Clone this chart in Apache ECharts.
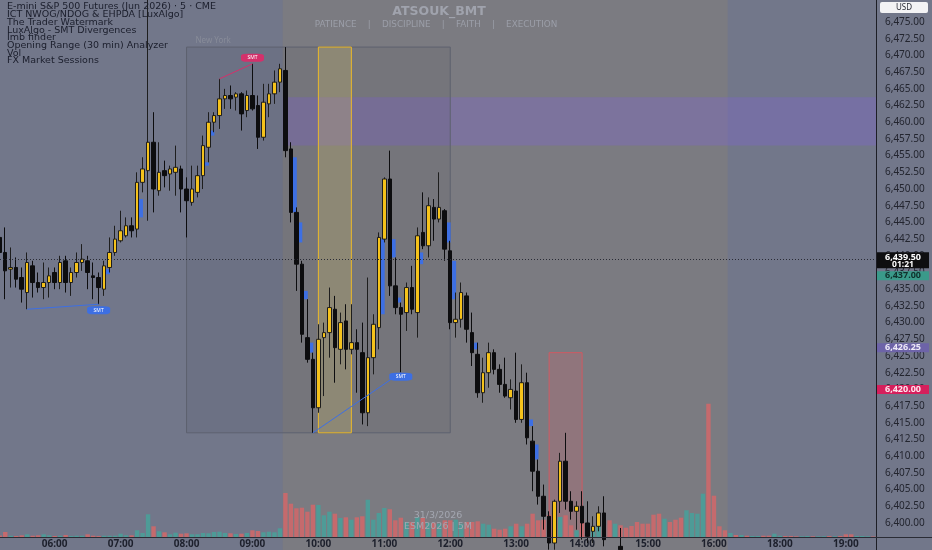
<!DOCTYPE html>
<html><head><meta charset="utf-8">
<script src="https://cdn.jsdelivr.net/npm/echarts@6/dist/echarts.min.js"></script>
<style>html,body{margin:0;padding:0;background:#72778a;overflow:hidden;}#c{width:935px;height:550px;margin-left:-3px;}</style>
</head><body><div id="c"></div>
<script>
// ---------- DATA ----------
// 5-minute slots from 05:10 (CME break 17:00-17:55 skipped)
const categories = [];
(function () {
  const pad = n => (n < 10 ? '0' : '') + n;
  let m = 5 * 60 + 10;
  while (categories.length < 160) {
    if (!(m >= 17 * 60 && m < 18 * 60)) categories.push(pad(Math.floor(m / 60)) + ':' + pad(m % 60));
    m += 5;
  }
})();

// [open, high, low, close]
const candles = [
[6442.75,6444.5,6440.25,6440.5],[6440.5,6444.25,6433.5,6437.75],[6438.0,6441.25,6435.25,6438.25],[6438.25,6439.75,6435.25,6436.5],[6436.75,6438.25,6433.0,6435.0],
[6434.5,6440.5,6432.0,6439.0],[6438.5,6439.25,6433.75,6436.0],[6436.0,6437.5,6434.5,6435.25],[6435.25,6439.0,6433.5,6436.0],[6436.0,6438.25,6433.75,6437.0],
[6437.5,6438.25,6435.0,6436.0],[6436.0,6440.0,6435.0,6439.0],[6439.25,6440.0,6434.5,6436.0],[6436.0,6438.25,6434.0,6437.5],[6437.5,6440.5,6436.75,6439.0],
[6439.0,6441.75,6437.75,6439.5],[6439.25,6440.0,6435.0,6437.5],[6437.0,6439.0,6433.5,6436.75],[6436.75,6437.5,6432.75,6435.25],[6435.0,6439.25,6434.0,6438.5],
[6438.25,6442.75,6437.5,6440.5],[6440.5,6444.5,6440.0,6442.5],[6442.25,6446.75,6442.0,6443.75],[6443.0,6445.75,6442.75,6444.5],[6444.5,6445.75,6442.75,6443.75],
[6444.0,6452.5,6442.75,6451.0],[6451.0,6454.75,6449.5,6453.0],[6452.75,6480.0,6445.25,6457.0],[6457.0,6461.5,6446.5,6450.0],[6449.75,6457.0,6449.0,6452.5],
[6452.75,6454.25,6450.25,6452.0],[6452.25,6453.5,6449.75,6453.0],[6452.5,6456.5,6449.0,6453.25],[6453.0,6453.5,6446.5,6450.0],[6450.0,6451.75,6442.75,6448.25],
[6448.0,6453.5,6447.5,6450.0],[6449.5,6453.5,6448.75,6452.0],[6452.0,6458.0,6450.0,6456.5],[6456.25,6461.5,6454.0,6460.0],[6460.0,6461.5,6458.5,6461.0],
[6461.0,6466.5,6459.0,6463.5],[6463.5,6465.0,6462.0,6464.0],[6464.0,6465.5,6462.0,6463.5],[6463.75,6464.5,6461.75,6464.25],[6464.25,6464.5,6458.75,6461.25],
[6461.75,6464.75,6460.75,6464.0],[6464.0,6468.75,6461.75,6462.0],[6462.5,6464.0,6456.0,6457.75],[6457.75,6465.75,6457.25,6463.0],[6462.75,6465.75,6460.75,6464.25],
[6464.25,6467.75,6462.75,6466.0],[6466.0,6468.75,6464.5,6468.0],[6467.75,6471.25,6454.75,6455.75],[6456.0,6457.0,6445.0,6446.5],[6446.5,6447.25,6434.75,6438.75],
[6438.75,6439.25,6427.0,6428.25],[6427.75,6433.5,6424.0,6424.5],[6424.5,6425.5,6413.5,6417.25],[6417.25,6429.75,6416.5,6427.5],[6427.75,6430.0,6419.0,6428.5],
[6428.5,6435.25,6424.75,6432.25],[6432.0,6434.0,6421.0,6426.25],[6426.0,6431.5,6423.75,6430.0],[6430.25,6432.75,6423.0,6426.0],[6426.0,6432.75,6425.25,6427.0],
[6427.0,6429.0,6419.5,6426.0],[6425.5,6430.0,6414.75,6416.5],[6416.5,6436.75,6414.5,6424.75],[6424.75,6431.25,6422.25,6429.75],[6429.25,6443.5,6426.0,6442.75],
[6442.5,6451.75,6442.0,6451.5],[6451.5,6455.75,6434.0,6435.5],[6435.5,6439.75,6431.25,6432.25],[6432.25,6433.0,6422.5,6431.25],[6431.5,6436.0,6428.75,6435.25],
[6435.25,6438.5,6431.25,6432.0],[6431.5,6444.25,6427.75,6443.0],[6443.5,6449.5,6441.0,6441.5],[6441.5,6448.75,6439.75,6447.5],[6447.25,6448.5,6442.25,6445.5],
[6445.5,6452.5,6445.0,6447.25],[6446.75,6447.0,6439.25,6441.0],[6440.75,6442.25,6429.0,6430.0],[6430.0,6434.5,6427.75,6430.5],[6430.5,6436.0,6429.25,6434.5],
[6434.0,6434.5,6427.0,6429.0],[6428.5,6431.5,6423.5,6425.5],[6425.25,6427.0,6418.75,6419.5],[6419.5,6424.75,6418.0,6422.5],[6422.5,6427.0,6420.25,6425.5],
[6425.5,6426.0,6422.25,6423.0],[6423.0,6423.75,6419.5,6420.75],[6420.75,6424.75,6418.75,6419.0],[6418.75,6421.5,6417.0,6420.0],[6419.75,6425.5,6415.0,6415.5],
[6415.5,6423.75,6415.0,6421.0],[6421.0,6422.5,6411.75,6412.75],[6412.25,6414.5,6404.75,6407.75],[6407.75,6409.5,6402.75,6404.0],[6404.0,6405.75,6399.0,6401.0],
[6401.0,6401.75,6396.0,6397.0],[6397.0,6403.5,6396.0,6403.25],[6403.25,6410.5,6401.5,6409.25],[6409.25,6413.5,6402.0,6403.25],[6403.25,6404.75,6400.5,6401.75],
[6401.75,6403.25,6399.0,6402.5],[6402.5,6404.75,6397.5,6400.0],[6400.0,6403.25,6397.0,6398.0],[6398.75,6401.0,6397.0,6399.5],[6399.5,6402.5,6398.75,6401.5],
[6401.5,6404.0,6396.5,6397.5],null,null,[6396.5,6399.25,6395.0,6396.0]
];

// volume per slot (contracts)
const volumes = [
150,500,130,100,170,270,130,170,270,170,
100,130,200,100,130,130,270,130,100,130,
130,130,330,170,170,670,400,2270,1070,570,
470,270,430,330,370,270,270,400,370,500,
530,400,370,300,330,400,670,600,470,530,
470,870,4400,3330,2870,2930,2530,3230,3200,2170,
2530,2330,1900,1970,1730,1970,2070,3730,1730,2400,
2900,2770,1670,1930,1500,1500,2000,1900,1430,1430,
1330,1670,1670,1730,1330,1500,1500,1570,1330,1230,
830,730,830,1070,1330,1070,1330,2330,1670,1730,
2200,1430,2000,2170,1170,670,1800,1400,900,1400,
1200,1670,1330,1170,930,1100,1500,1330,1330,2230,
2330,1830,1500,1730,1930,2670,2400,2330,4330,13330,
4130,1070,670,400,200,200,130,100,100,130,
130,330,130,100,100,70,70,100,70,70,
70,100,70,100,270,270,100,100,70,50
];
// bar direction for slots whose candle is below the visible range (from slot 111)
const lateVolSide = ['d','u','d','d','d','d','d','d','d','d','u','d','d','d','u','u','u','u','d','d',
'd','d','u','d','u','d','u','u','d','d','u','u','d','d','d','u','u','d','u','u','d','u','d','d','d','u','u','u','d'];

const priceTicks = [6400,6402.5,6405,6407.5,6410,6412.5,6415,6417.5,6420,6422.5,6425,6427.5,6430,6432.5,6435,
6437.5,6440,6442.5,6445,6447.5,6450,6452.5,6455,6457.5,6460,6462.5,6465,6467.5,6470,6472.5,6475];

// imbalance blocks [slot, low, high]
const imbalances = [[19,6437.25,6438.0],[25,6445.75,6448.5],[37,6453.5,6454.0],[38,6458.0,6458.75],[53,6446.5,6454.75],
[54,6442.0,6445.0],[55,6433.5,6434.75],[56,6425.5,6427.0],[69,6431.25,6442.5],[71,6439.75,6442.5],[72,6433.0,6433.75],
[76,6438.75,6440.5],[81,6442.0,6445.0],[82,6433.5,6439.25],[86,6426.0,6427.0],[96,6414.5,6415.5],[97,6409.5,6411.75]];

// SMT swing links [fromSlot, fromPrice, toSlot, toPrice, kind]
const swings = [[5,6432.0,18,6432.75,'low'],[40,6466.5,46,6468.75,'high'],[57,6413.5,73,6422.5,'low']];

// boxes [fromSlot, toSlot, low, high, kind]
const Y_MIN = 6397.9, Y_MAX = 6478.3;
const boxes = [[34,82,6413.5,6471.25,'ny'],[58,64,6413.5,6471.25,'or'],[100,106,Y_MIN,6425.5,'red']];
const sessionSlots = [52,132];
const zone = [52, 6456.5, 6463.75];
const lastPrice = 6439.5, lastTimer = '01:21';
const tagPrices = [[6437.0,'teal'],[6426.25,'purple'],[6420.0,'red']];

const legendLines = ['E-mini S&P 500 Futures (Jun 2026) · 5 · CME','ICT NWOG/NDOG & EHPDA [LuxAlgo]','The Trader Watermark',
'LuxAlgo - SMT Divergences','Imb finder','Opening Range (30 min) Analyzer','Vol','FX Market Sessions'];

// ---------- CHART ----------
const UP = '#f5c21b', DOWN = '#0d0d0f', VUP = '#4e9b97', VDN = '#c56a6d', BLUE = '#3d6fe3', RED = '#d4306b';
const fmt = v => v.toFixed(2).replace(/\B(?=(\d{3})+(?!\d))/, ',');
const FONT = '"Noto Sans", "DejaVu Sans", sans-serif';
const DV = '"DejaVu Sans", sans-serif';
const OX = 3;           // the chart canvas starts 3px left of the page
const W = 935;

const candleData = candles.map(c => c ? [c[0], c[3], c[2], c[1]] : '-');
const volData = volumes.map((v, i) => {
  const c = candles[i];
  let up = c ? c[3] >= c[0] : lateVolSide[i - 111] === 'u';
  return { value: v, itemStyle: { color: up ? VUP : VDN } };
});

const boxStyles = {
  ny: { color: 'rgba(40,42,60,0.07)', borderColor: '#5d616f', borderWidth: 1 },
  or: { color: 'rgba(228,205,95,0.22)', borderColor: '#ebb92a', borderWidth: 1 },
  red: { color: 'rgba(228,95,105,0.20)', borderColor: '#d05a62', borderWidth: 1 }
};

const chart = echarts.init(document.getElementById('c'));
chart.setOption({
  backgroundColor: '#72778a',
  animation: false,
  grid: [
    { left: 0, right: 56, top: 0, bottom: 13 },
    { left: 0, right: 56, bottom: 13, height: 150 }
  ],
  xAxis: [
    { type: 'category', data: categories, gridIndex: 0, boundaryGap: true,
      axisLine: { show: false }, axisTick: { show: false }, splitLine: { show: false },
      axisLabel: { interval: (i, v) => v.slice(3) === '00', color: '#1d202c', fontSize: 10, fontWeight: 'bold', fontFamily: FONT, margin: 2 } },
    { type: 'category', data: categories, gridIndex: 1, show: false, boundaryGap: true }
  ],
  yAxis: [
    { type: 'value', gridIndex: 0, position: 'right', min: Y_MIN, max: Y_MAX,
      axisLine: { show: false }, axisTick: { show: false }, splitLine: { show: false },
      axisLabel: { customValues: priceTicks, formatter: fmt, color: '#23252f', fontSize: 10, fontFamily: FONT, margin: 9 } },
    { type: 'value', gridIndex: 1, min: 0, max: 15000, show: false, splitLine: { show: false } }
  ],
  series: [
    { type: 'bar', xAxisIndex: 1, yAxisIndex: 1, data: volData, barWidth: '80%', silent: true },
    { type: 'candlestick', xAxisIndex: 0, yAxisIndex: 0, data: candleData, barWidth: 4, clip: true, silent: true,
      itemStyle: { color: UP, color0: DOWN, borderColor: '#1e1e1e', borderColor0: DOWN, borderWidth: 1 },
      markArea: { silent: true, label: { show: false },
        data: boxes.map(b => [{ xAxis: categories[b[0]], yAxis: b[2], itemStyle: boxStyles[b[4]] }, { xAxis: categories[b[1]], yAxis: b[3] }]) },
      markLine: { silent: true, symbol: 'none', label: { show: false }, animation: false,
        data: [{ yAxis: lastPrice, lineStyle: { color: '#2a2c36', type: [1, 2], width: 1 } }].concat(
          swings.map(s => [{ coord: [categories[s[0]], s[1]], lineStyle: { color: s[4] === 'high' ? RED : BLUE, type: 'solid', width: 1 } },
                           { coord: [categories[s[2]], s[3]] }])) },
      markPoint: { silent: true, symbol: 'roundRect', symbolSize: [23, 8],
        data: swings.map(s => ({ coord: [categories[s[2]], s[3]], symbolOffset: [0, s[4] === 'high' ? -6 : (s[2] === 73 ? 4 : 6)],
          itemStyle: { color: s[4] === 'high' ? RED : BLUE },
          label: { show: true, position: 'inside', formatter: 'SMT', fontSize: 5, color: '#ffffff', fontFamily: FONT } })) }
    },
    { type: 'custom', xAxisIndex: 0, yAxisIndex: 0, data: imbalances, clip: true, silent: true,
      encode: { x: 0, y: [1, 2] },
      renderItem: (params, api) => {
        const i = api.value(0);
        const lo = api.coord([i, api.value(1)]);
        const hi = api.coord([i, api.value(2)]);
        const bw = api.size([1, 0])[0];
        return { type: 'rect', shape: { x: lo[0] + 0.35 * bw, y: hi[1], width: 0.72 * bw, height: Math.max(1.5, lo[1] - hi[1]) }, style: { fill: BLUE } };
      } }
  ]
});

// ---------- OVERLAYS (positions from the chart's own scales) ----------
const cx = i => chart.convertToPixel({ xAxisIndex: 0 }, categories[i]);
const cy = v => chart.convertToPixel({ yAxisIndex: 0 }, v);
const bw = cx(1) - cx(0);
const plotRight = W - 56;
const g = [];
const sx0 = cx(sessionSlots[0]) - bw / 2, sx1 = cx(sessionSlots[1]) + bw / 2;
g.push({ type: 'rect', z: -5, silent: true, shape: { x: sx0, y: 0, width: sx1 - sx0, height: 550 }, style: { fill: '#7b7b81' } });
const zx0 = cx(zone[0]) - bw / 2;
g.push({ type: 'rect', z: -4, silent: true, shape: { x: zx0, y: cy(zone[2]), width: plotRight - zx0, height: cy(zone[1]) - cy(zone[2]) }, style: { fill: 'rgba(128,100,215,0.33)' } });
g.push({ type: 'line', z: 50, silent: true, shape: { x1: plotRight + 0.5, y1: 0, x2: plotRight + 0.5, y2: 550 }, style: { stroke: '#1d1e25', lineWidth: 1 } });
g.push({ type: 'line', z: 50, silent: true, shape: { x1: 0, y1: 537.5, x2: W, y2: 537.5 }, style: { stroke: '#2a2c35', lineWidth: 1 } });

// legend
legendLines.forEach((t, k) => g.push({ type: 'text', z: 60, silent: true, x: OX + 7, y: 7 + 7.7 * k,
  style: { text: t, fill: '#1b1e2c', font: '9.5px ' + DV, verticalAlign: 'middle' } }));
// watermarks
g.push({ type: 'text', z: 60, silent: true, x: OX + 439, y: 12, style: { text: 'ATSOUK_BMT', fill: '#a0a3ad', font: 'bold 12.5px ' + DV, align: 'center', verticalAlign: 'middle' } });
g.push({ type: 'text', z: 60, silent: true, x: OX + 436, y: 24.5, style: { text: 'PATIENCE    |    DISCIPLINE    |    FAITH    |    EXECUTION', fill: '#9b9ea8', font: '8.8px ' + DV, align: 'center', verticalAlign: 'middle' } });
g.push({ type: 'text', z: 60, silent: true, x: OX + 438, y: 516, style: { text: '31/3/2026', fill: '#a3a6b0', font: '9.5px ' + DV, align: 'center', verticalAlign: 'middle' } });
g.push({ type: 'text', z: 60, silent: true, x: OX + 438, y: 527, style: { text: 'ESM2026 | 5M', fill: '#a3a6b0', font: '9.5px ' + DV, align: 'center', verticalAlign: 'middle' } });
g.push({ type: 'text', z: 60, silent: true, x: cx(boxes[0][0]) + 9, y: cy(boxes[0][3]) - 6, style: { text: 'New York', fill: '#888c99', font: '8px ' + FONT, verticalAlign: 'middle' } });
// USD box
g.push({ type: 'rect', z: 60, silent: true, shape: { x: OX + 880, y: 2, width: 48, height: 11, r: 2 }, style: { fill: '#f3f3f5' } });
g.push({ type: 'text', z: 61, silent: true, x: OX + 904, y: 7.5, style: { text: 'USD', fill: '#2a2c36', font: '8px ' + FONT, align: 'center', verticalAlign: 'middle' } });
// price tags
const tagFill = { teal: '#3a9a8a', purple: '#6d63a8', red: '#d61f5c' };
const tagText = { teal: '#10302c', purple: '#eeeaf8', red: '#ffe6ee' };
const tx = plotRight + 1, tcx = plotRight + 27;
tagPrices.forEach(t => {
  const y = cy(t[0]);
  g.push({ type: 'rect', z: 62, silent: true, shape: { x: tx, y: y - 4.5, width: 52, height: 9 }, style: { fill: tagFill[t[1]] } });
  g.push({ type: 'text', z: 63, silent: true, x: tcx, y: y, style: { text: fmt(t[0]), fill: tagText[t[1]], font: 'bold 9px ' + FONT, align: 'center', verticalAlign: 'middle' } });
});
const ly = cy(lastPrice);
g.push({ type: 'rect', z: 64, silent: true, shape: { x: tx, y: ly - 7, width: 52, height: 16 }, style: { fill: '#0e0e10' } });
g.push({ type: 'text', z: 65, silent: true, x: tcx, y: ly - 2, style: { text: fmt(lastPrice), fill: '#ffffff', font: 'bold 9px ' + FONT, align: 'center', verticalAlign: 'middle' } });
g.push({ type: 'text', z: 65, silent: true, x: tcx, y: ly + 5.5, style: { text: lastTimer, fill: '#ffffff', font: 'bold 8.5px ' + FONT, align: 'center', verticalAlign: 'middle' } });

chart.setOption({ graphic: g });
</script></body></html>
